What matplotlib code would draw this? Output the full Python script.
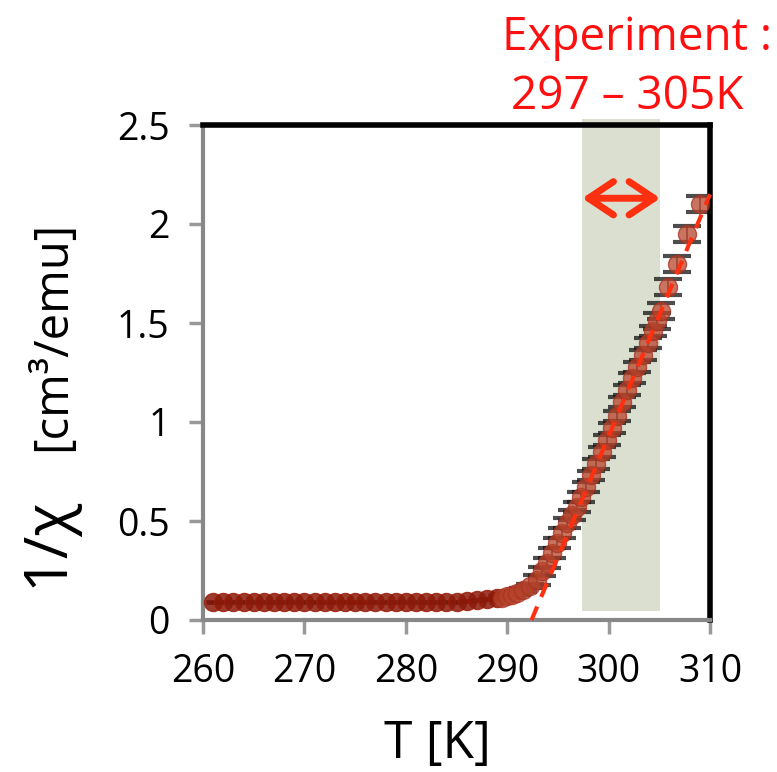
import numpy as np
import matplotlib.pyplot as plt
import matplotlib.patches as mpatches

plt.rcParams['font.family'] = ['Open Sans', 'DejaVu Sans']

# measured data: temperature [K] and inverse susceptibility
T_flat = [261, 262, 263, 264, 265, 266, 267, 268, 269, 270, 271, 272, 273, 274,
          275, 276, 277, 278, 279, 280, 281, 282, 283, 284, 285, 286, 287, 288, 289]
chi_flat = [0.09, 0.09, 0.09, 0.09, 0.09, 0.09, 0.09, 0.09, 0.09, 0.09, 0.09, 0.09,
            0.09, 0.09, 0.09, 0.09, 0.09, 0.09, 0.09, 0.09, 0.09, 0.09, 0.09, 0.09,
            0.092, 0.095, 0.10, 0.105, 0.11]
T_rise = [289.5, 290, 290.5, 291, 291.6, 292.2, 292.9, 293.4, 293.9, 294.4, 294.9,
          295.4, 295.9, 296.4, 296.9, 297.3, 297.8, 298.3, 298.8, 299.3, 299.8,
          300.3, 300.8, 301.3, 301.8, 302.3, 302.8, 303.4, 303.9, 304.4, 304.8,
          305.2, 305.9, 306.7, 307.7, 309.0]
chi_rise = [0.112, 0.12, 0.125, 0.135, 0.15, 0.17, 0.20, 0.245, 0.29, 0.34, 0.39,
            0.44, 0.49, 0.53, 0.57, 0.62, 0.67, 0.73, 0.79, 0.85, 0.91, 0.97,
            1.03, 1.10, 1.16, 1.22, 1.28, 1.34, 1.40, 1.46, 1.51, 1.56, 1.68,
            1.80, 1.95, 2.10]
err_rise = [0.01] * 6 + [0.025] * 24 + [0.04] * 6

# linear fit to Curie-Weiss region
fit_T = [292.4, 310.0]
fit_chi = [0.0, 2.15]

band = (297.4, 305.1)

fig = plt.figure(figsize=(7.77, 7.72), dpi=100)
ax = fig.add_axes([203 / 777, 1 - 620 / 772, 507 / 777, 495 / 772])

ax.set_xlim(260, 310)
ax.set_ylim(0, 2.5)

# shaded experiment window
ax.axvspan(band[0], band[1], ymin=0.018, ymax=1.012, color='#dadfd0',
           zorder=0.5, clip_on=False, lw=0)

ax.errorbar(T_flat, chi_flat, yerr=0.005, fmt='o', ms=13, color='#8b1a0a',
            mec='#9a1e0c', alpha=0.85, ecolor='black', elinewidth=1.2,
            capsize=5, capthick=2, zorder=3)
ax.errorbar(T_rise, chi_rise, yerr=err_rise, fmt='o', ms=13, color='#b8442c',
            mec='#a83220', alpha=0.75, ecolor='#111111', elinewidth=1.2,
            capsize=10, capthick=3, zorder=3)
ax.plot(fit_T, fit_chi, '--', color='#ff3010', lw=3, dashes=(3.5, 2.5), zorder=4,
        clip_on=False)

# double-headed arrow over band
arr = mpatches.FancyArrowPatch((band[0], 2.13), (band[1], 2.13),
                               arrowstyle='<->,head_length=18,head_width=12',
                               shrinkA=0, shrinkB=0,
                               color='#ff3010', lw=5, zorder=5)
ax.add_patch(arr)

for s in ['top', 'right']:
    ax.spines[s].set_linewidth(4)
    ax.spines[s].set_color('black')
for s in ['left', 'bottom']:
    ax.spines[s].set_linewidth(3)
    ax.spines[s].set_color('#888888')

ax.set_xticks([260, 270, 280, 290, 300, 310])
ax.set_yticks([0, 0.5, 1, 1.5, 2, 2.5])
ax.set_yticklabels(['0', '0.5', '1', '1.5', '2', '2.5'])
ax.tick_params(axis='both', direction='out', length=10, width=2.5,
               color='#999999', labelsize=27, pad=14)

fig.text(437 / 777, 1 - 745 / 772, 'T [K]', fontsize=37, ha='center', va='center')
fig.text(48 / 777, 1 - 542 / 772, '1/χ', fontsize=44, rotation=90,
         ha='center', va='center')
fig.text(52 / 777, 1 - 336 / 772, '[cm³/emu]', fontsize=34, rotation=90,
         ha='center', va='center')

fig.text(637 / 777, 1 - 38 / 772, 'Experiment :', fontsize=33, color='#ff1010',
         ha='center', va='center')
fig.text(627 / 777, 1 - 97 / 772, '297 – 305K', fontsize=33, color='#ff1010',
         ha='center', va='center')

fig.savefig('out.png', dpi=100)
